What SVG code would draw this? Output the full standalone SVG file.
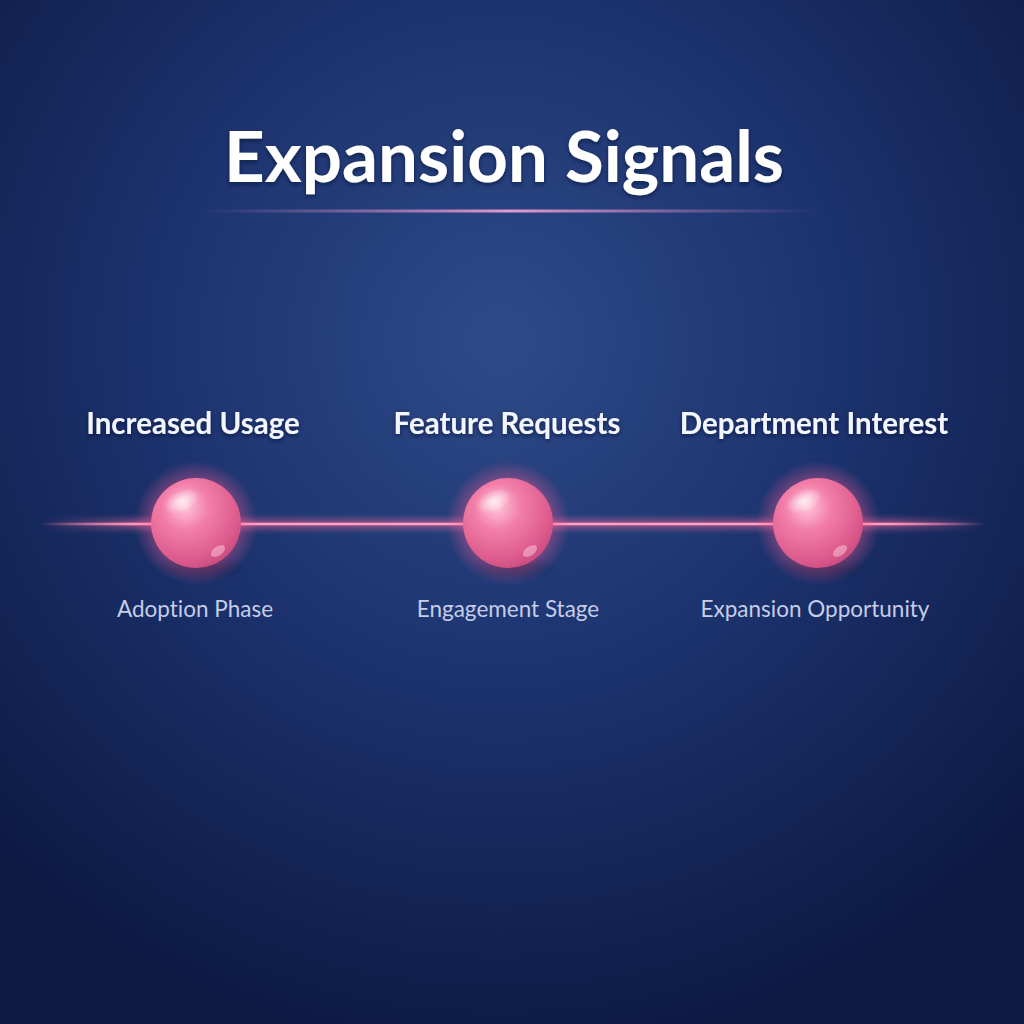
<svg xmlns="http://www.w3.org/2000/svg" width="1024" height="1024" viewBox="0 0 1024 1024">
<defs>
<radialGradient id="bg" cx="500" cy="340" r="720" gradientUnits="userSpaceOnUse">
<stop offset="0" stop-color="#2e4b88"/>
<stop offset="0.45" stop-color="#1d3470"/>
<stop offset="1" stop-color="#0c1943"/>
</radialGradient>
<linearGradient id="rule" x1="200" y1="0" x2="820" y2="0" gradientUnits="userSpaceOnUse">
<stop offset="0" stop-color="#c07ab8" stop-opacity="0"/>
<stop offset="0.5" stop-color="#e39ad0" stop-opacity="1"/>
<stop offset="1" stop-color="#c07ab8" stop-opacity="0"/>
</linearGradient>
<linearGradient id="line" x1="40" y1="0" x2="985" y2="0" gradientUnits="userSpaceOnUse">
<stop offset="0" stop-color="#ff6fa0" stop-opacity="0"/>
<stop offset="0.1" stop-color="#ff6fa0" stop-opacity="0.9"/>
<stop offset="0.9" stop-color="#ff6fa0" stop-opacity="0.9"/>
<stop offset="1" stop-color="#ff6fa0" stop-opacity="0"/>
</linearGradient>
<linearGradient id="core" x1="40" y1="0" x2="985" y2="0" gradientUnits="userSpaceOnUse">
<stop offset="0" stop-color="#ffd0e2" stop-opacity="0"/>
<stop offset="0.12" stop-color="#ffd0e2" stop-opacity="0.8"/>
<stop offset="0.88" stop-color="#ffd0e2" stop-opacity="0.8"/>
<stop offset="1" stop-color="#ffd0e2" stop-opacity="0"/>
</linearGradient>
<radialGradient id="sphere" cx="0.38" cy="0.32" r="0.75">
<stop offset="0" stop-color="#ffc6da"/>
<stop offset="0.35" stop-color="#f27ea8"/>
<stop offset="0.8" stop-color="#dc5a8c"/>
<stop offset="1" stop-color="#c54a7e"/>
</radialGradient>
<radialGradient id="glow">
<stop offset="0.55" stop-color="#ff5c96" stop-opacity="0.55"/>
<stop offset="1" stop-color="#ff5c96" stop-opacity="0"/>
</radialGradient>
<radialGradient id="shade">
<stop offset="0" stop-color="#050c2a" stop-opacity="0.5"/>
<stop offset="1" stop-color="#050c2a" stop-opacity="0"/>
</radialGradient>
<radialGradient id="hl">
<stop offset="0" stop-color="#ffffff" stop-opacity="0.75"/>
<stop offset="1" stop-color="#ffffff" stop-opacity="0"/>
</radialGradient>
<filter id="blur" x="-50%" y="-50%" width="200%" height="200%"><feGaussianBlur stdDeviation="3"/></filter>
<filter id="tshadow" x="-10%" y="-30%" width="120%" height="160%"><feDropShadow dx="0" dy="2" stdDeviation="2" flood-color="#050c2a" flood-opacity="0.6"/></filter>
<g id="ball">
<ellipse cx="6" cy="44" rx="44" ry="14" fill="url(#shade)"/>
<circle r="62" fill="url(#glow)"/>
<circle r="45" fill="url(#sphere)"/>
<ellipse cx="-14" cy="-22" rx="19" ry="11" fill="url(#hl)" transform="rotate(-25 -14 -22)"/>
<ellipse cx="22" cy="28" rx="8" ry="4.5" fill="#ffd6e6" opacity="0.45" transform="rotate(-35 22 28)"/>
</g>
</defs>
<style>
text{font-variant-ligatures:none}
.title{font-family:Lato,"Open Sans",sans-serif;font-weight:700;font-size:71px;fill:#ffffff;text-anchor:middle}
.lbl{font-family:Lato,"Open Sans",sans-serif;font-weight:700;font-size:29.5px;fill:#f4f6ff;text-anchor:middle}
.sub{font-family:Lato,"Open Sans",sans-serif;font-size:22.5px;fill:#c5cde8;text-anchor:middle}
</style>
<rect width="1024" height="1024" fill="url(#bg)"/>
<g id="title">
<text class="title" x="504" y="182" textLength="560" lengthAdjust="spacingAndGlyphs" filter="url(#tshadow)">Expansion Signals</text>
<rect x="200" y="209.5" width="620" height="3" fill="url(#rule)"/>
</g>
<g id="connectors">
<rect x="40" y="519" width="945" height="10" fill="url(#line)" opacity="0.5" filter="url(#blur)"/>
<rect x="40" y="522.5" width="945" height="3" fill="url(#line)"/>
<rect x="40" y="523.3" width="945" height="1.4" fill="url(#core)"/>
</g>
<g id="node1">
<text class="lbl" x="193" y="434" filter="url(#tshadow)">Increased Usage</text>
<use href="#ball" x="196" y="523"/>
<text class="sub" x="195" y="617">Adoption Phase</text>
</g>
<g id="node2">
<text class="lbl" x="507" y="434" filter="url(#tshadow)">Feature Requests</text>
<use href="#ball" x="508" y="523"/>
<text class="sub" x="508" y="617">Engagement Stage</text>
</g>
<g id="node3">
<text class="lbl" x="814" y="434" filter="url(#tshadow)">Department Interest</text>
<use href="#ball" x="818" y="523"/>
<text class="sub" x="815" y="617">Expansion Opportunity</text>
</g>
</svg>
